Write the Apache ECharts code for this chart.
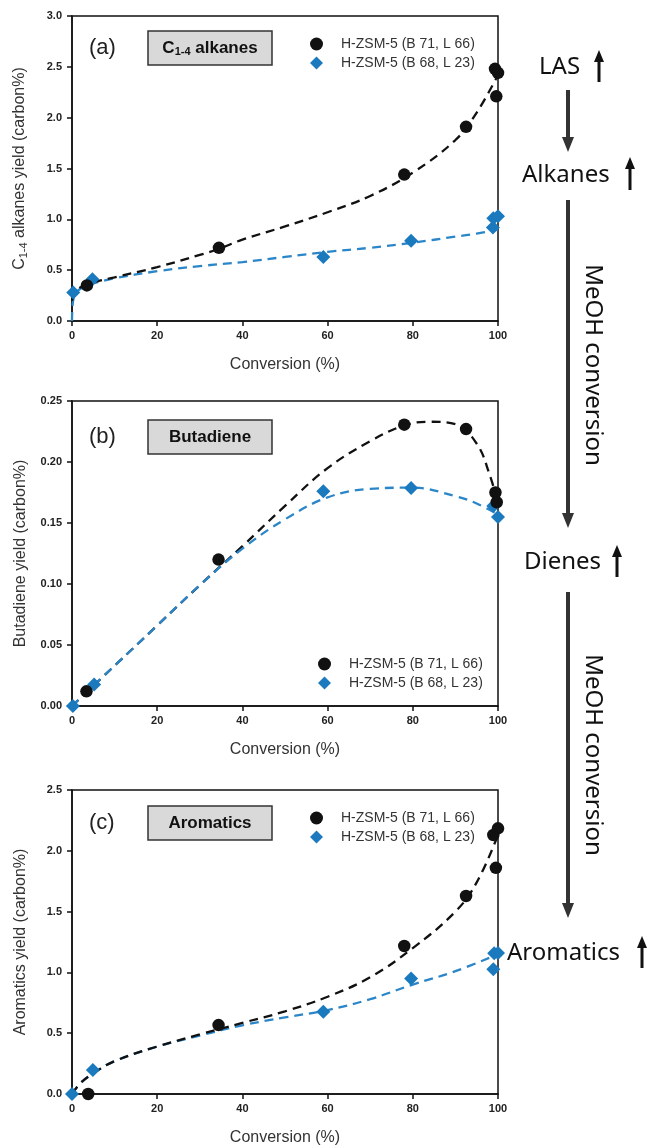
<!DOCTYPE html>
<html>
<head>
<meta charset="utf-8">
<script src="https://cdn.jsdelivr.net/npm/echarts@6/dist/echarts.min.js"></script>
<style>
  html, body { margin: 0; padding: 0; background: #fff; }
  #chart { width: 647px; height: 1147px; }
</style>
</head>
<body>
<div id="chart"></div>
<script>
// noms des catalyseurs
const nameB71 = 'H-ZSM-5 (B 71, L 66)';
const nameB68 = 'H-ZSM-5 (B 68, L 23)';

const xTicks = [0, 20, 40, 60, 80, 100];

// (a) C1-4 alkanes - points mesurés
const alkConvB71 = [3.5, 34.5, 78, 92.5, 99.3, 100, 99.6];
const alkYieldB71 = [0.35, 0.72, 1.44, 1.91, 2.48, 2.44, 2.21];
const alkConvB68 = [0.3, 4.8, 59, 79.6, 98.8, 98.9, 100];
const alkYieldB68 = [0.28, 0.41, 0.63, 0.79, 0.92, 1.01, 1.03];
// courbes de tendance
const alkFitConvB71 = [0, 1, 3, 5, 10, 20, 30, 34.5, 40, 50, 60, 70, 80, 90, 95, 100];
const alkFitYieldB71 = [0.2, 0.3, 0.35, 0.38, 0.43, 0.53, 0.65, 0.71, 0.8, 0.93, 1.07, 1.23, 1.46, 1.78, 2.05, 2.42];
const alkFitConvB68 = [0, 0.2, 1, 3, 5, 10, 20, 30, 40, 50, 60, 70, 80, 90, 95, 100];
const alkFitYieldB68 = [0.0, 0.18, 0.28, 0.34, 0.37, 0.42, 0.49, 0.54, 0.58, 0.63, 0.68, 0.72, 0.77, 0.83, 0.86, 0.9];

// (b) Butadiene
const butConvB71 = [3.4, 34.4, 78, 92.5, 99.4, 99.7];
const butYieldB71 = [0.012, 0.12, 0.2306, 0.227, 0.175, 0.167];
const butConvB68 = [0.2, 5.2, 59, 79.6, 98.9, 100];
const butYieldB68 = [0.0, 0.0176, 0.176, 0.1786, 0.164, 0.155];
const butFitConvB71 = [0, 10, 20, 30, 40, 50, 60, 70, 78, 84, 90, 95, 98, 100];
const butFitYieldB71 = [0, 0.033, 0.066, 0.099, 0.131, 0.164, 0.195, 0.217, 0.23, 0.233, 0.231, 0.215, 0.19, 0.166];
const butFitConvB68 = [0, 10, 20, 30, 40, 50, 60, 70, 80, 90, 95, 100];
const butFitYieldB68 = [0, 0.033, 0.066, 0.099, 0.129, 0.153, 0.171, 0.178, 0.179, 0.172, 0.166, 0.157];

// (c) Aromatics
const aroConvB71 = [3.8, 34.4, 78, 92.5, 98.9, 100, 99.5];
const aroYieldB71 = [0.0, 0.567, 1.217, 1.628, 2.13, 2.185, 1.86];
const aroConvB68 = [0, 4.9, 59, 79.6, 98.9, 99.1, 100];
const aroYieldB68 = [0.0, 0.197, 0.677, 0.95, 1.025, 1.157, 1.16];
const aroFitConvB71 = [0, 2, 5, 10, 20, 30, 40, 50, 60, 70, 80, 90, 95, 100];
const aroFitYieldB71 = [0.0, 0.09, 0.17, 0.27, 0.39, 0.49, 0.585, 0.68, 0.8, 0.96, 1.2, 1.5, 1.74, 2.13];
const aroFitConvB68 = [0, 2, 5, 10, 20, 30, 40, 50, 60, 70, 80, 90, 100];
const aroFitYieldB68 = [0.0, 0.09, 0.17, 0.27, 0.39, 0.48, 0.565, 0.63, 0.69, 0.78, 0.9, 1.01, 1.15];

const zip = (xs, ys) => xs.map((x, i) => [x, ys[i]]);

document.addEventListener('DOMContentLoaded', function() {
    const chart = echarts.init(document.getElementById('chart'), null, { renderer: 'canvas' });

    const black = '#111111';
    const blue = '#1b79bd';
    const blueLine = '#2a86c8';
    const font = 'Arial, "Liberation Sans", sans-serif';
    const textFont = '"Noto Sans", "Open Sans", sans-serif';

    // positions des trois graphes
    const grids = [
        { left: 72, top: 16, width: 426, height: 305 },
        { left: 72, top: 401, width: 426, height: 305 },
        { left: 72, top: 790, width: 426, height: 304 }
    ];

    function xAxisFor(i) {
        return {
            type: 'value', gridIndex: i, min: 0, max: 100, interval: 20,
            name: 'Conversion (%)', nameLocation: 'middle', nameGap: 36,
            nameTextStyle: { fontFamily: font, fontSize: 16, color: '#333' },
            axisLine: { onZero: false, lineStyle: { color: black, width: 1.5 } },
            axisTick: { inside: false, length: 5, lineStyle: { color: black, width: 1.5 } },
            axisLabel: { fontFamily: font, fontSize: 11, fontWeight: 'bold', color: '#222', margin: 9 },
            splitLine: { show: false }
        };
    }

    function yAxisFor(i, max, interval, digits, name) {
        return {
            type: 'value', gridIndex: i, min: 0, max: max, interval: interval,
            name: name, nameLocation: 'middle', nameGap: 43,
            nameTextStyle: {
                fontFamily: font, fontSize: 16, color: '#333',
                rich: { s: { fontFamily: font, fontSize: 11, color: '#333', padding: [7, 0, 0, 0] } }
            },
            axisLine: { onZero: false, lineStyle: { color: black, width: 1.5 } },
            axisTick: { inside: false, length: 5, lineStyle: { color: black, width: 1.5 } },
            axisLabel: {
                fontFamily: font, fontSize: 11, fontWeight: 'bold', color: '#222', margin: 10,
                formatter: v => v.toFixed(digits)
            },
            splitLine: { show: false }
        };
    }

    function fit(i, name, data, color) {
        return {
            type: 'line', name: name, xAxisIndex: i, yAxisIndex: i,
            data: data, smooth: 0.4, showSymbol: false, silent: true,
            lineStyle: { color: color, width: 2.3, type: [9, 6] }, z: 2
        };
    }

    function points(i, name, data, isDiamond) {
        return {
            type: 'scatter', name: name, xAxisIndex: i, yAxisIndex: i,
            data: data,
            symbol: isDiamond ? 'diamond' : 'circle',
            symbolSize: isDiamond ? 14 : 12.5,
            itemStyle: { color: isDiamond ? blue : black, opacity: 1 },
            z: isDiamond ? 4 : 5
        };
    }

    function legendAt(left, top) {
        return {
            data: [nameB71, nameB68],
            orient: 'vertical', left: left, top: top,
            itemWidth: 13, itemHeight: 13, itemGap: 5,
            selectedMode: false,
            textStyle: { fontFamily: font, fontSize: 14, color: '#333', padding: [0, 0, 0, 13] }
        };
    }

    // étiquette encadrée (a)/(b)/(c)
    function panelTag(letter, y, rich) {
        return [
            {
                type: 'text', x: 89, y: y,
                style: { text: letter, fontFamily: font, fontSize: 22, fill: '#222', verticalAlign: 'middle' }
            },
            {
                type: 'rect', shape: { x: 148, y: y - 17, width: 124, height: 34 },
                style: { fill: '#d9d9d9', stroke: '#333', lineWidth: 1.5 }
            },
            {
                type: 'text', x: 210, y: y,
                style: Object.assign({
                    fontFamily: font, fontSize: 17, fontWeight: 'bold', fill: '#111',
                    align: 'center', verticalAlign: 'middle'
                }, rich)
            }
        ];
    }

    function downArrow(x, y1, y2) {
        return [
            { type: 'line', shape: { x1: x, y1: y1, x2: x, y2: y2 - 12 }, style: { stroke: '#333', lineWidth: 4 } },
            { type: 'polygon', shape: { points: [[x - 6, y2 - 15], [x + 6, y2 - 15], [x, y2]] }, style: { fill: '#333' } }
        ];
    }

    function upArrow(x, y1, y2) {
        return [
            { type: 'line', shape: { x1: x, y1: y1 + 8, x2: x, y2: y2 }, style: { stroke: '#111', lineWidth: 3 } },
            { type: 'polygon', shape: { points: [[x - 5, y1 + 12], [x + 5, y1 + 12], [x, y1]] }, style: { fill: '#111' } }
        ];
    }

    function label(text, x, y) {
        return {
            type: 'text', x: x, y: y,
            style: { text: text, fontFamily: textFont, fontSize: 24, fill: '#111', align: 'left', verticalAlign: 'middle' }
        };
    }

    function vertLabel(text, x, y) {
        return {
            type: 'text', x: x, y: y, rotation: -Math.PI / 2,
            style: { text: text, fontFamily: textFont, fontSize: 24, fill: '#111', align: 'center', verticalAlign: 'middle' }
        };
    }

    const graphics = [].concat(
        panelTag('(a)', 48, {
            text: '{a|C}{b|1-4}{a| alkanes}',
            rich: {
                a: { fontFamily: font, fontSize: 17, fontWeight: 'bold', fill: '#111' },
                b: { fontFamily: font, fontSize: 11, fontWeight: 'bold', fill: '#111', padding: [8, 0, 0, 0] }
            }
        }),
        panelTag('(b)', 437, { text: 'Butadiene' }),
        panelTag('(c)', 823, { text: 'Aromatics' }),
        [label('LAS', 539, 67)], upArrow(599, 50, 82),
        downArrow(568, 90, 152),
        [label('Alkanes', 522, 175)], upArrow(630, 157, 190),
        downArrow(568, 200, 528),
        [vertLabel('MeOH conversion', 593, 365)],
        [label('Dienes', 524, 562)], upArrow(617, 545, 577),
        downArrow(568, 592, 918),
        [vertLabel('MeOH conversion', 593, 755)],
        [label('Aromatics', 507, 953)], upArrow(642, 936, 968)
    );

    const option = {
        backgroundColor: '#ffffff',
        animation: false,
        grid: grids.map(g => Object.assign({ show: true, borderColor: black, borderWidth: 1.5, backgroundColor: 'transparent' }, g)),
        xAxis: [xAxisFor(0), xAxisFor(1), xAxisFor(2)],
        yAxis: [
            yAxisFor(0, 3, 0.5, 1, 'C{s|1-4} alkanes yield (carbon%)'),
            yAxisFor(1, 0.25, 0.05, 2, 'Butadiene yield (carbon%)'),
            yAxisFor(2, 2.5, 0.5, 1, 'Aromatics yield (carbon%)')
        ],
        legend: [legendAt(305, 32), legendAt(313, 652), legendAt(305, 806)],
        graphic: graphics,
        series: [
            fit(0, 'fitA68', zip(alkFitConvB68, alkFitYieldB68), blueLine),
            fit(0, 'fitA71', zip(alkFitConvB71, alkFitYieldB71), black),
            points(0, nameB71, zip(alkConvB71, alkYieldB71), false),
            points(0, nameB68, zip(alkConvB68, alkYieldB68), true),

            fit(1, 'fitB71', zip(butFitConvB71, butFitYieldB71), black),
            fit(1, 'fitB68', zip(butFitConvB68, butFitYieldB68), blueLine),
            points(1, nameB71, zip(butConvB71, butYieldB71), false),
            points(1, nameB68, zip(butConvB68, butYieldB68), true),

            fit(2, 'fitC68', zip(aroFitConvB68, aroFitYieldB68), blueLine),
            fit(2, 'fitC71', zip(aroFitConvB71, aroFitYieldB71), black),
            points(2, nameB71, zip(aroConvB71, aroYieldB71), false),
            points(2, nameB68, zip(aroConvB68, aroYieldB68), true)
        ]
    };

    chart.setOption(option);
});
</script>
</body>
</html>
